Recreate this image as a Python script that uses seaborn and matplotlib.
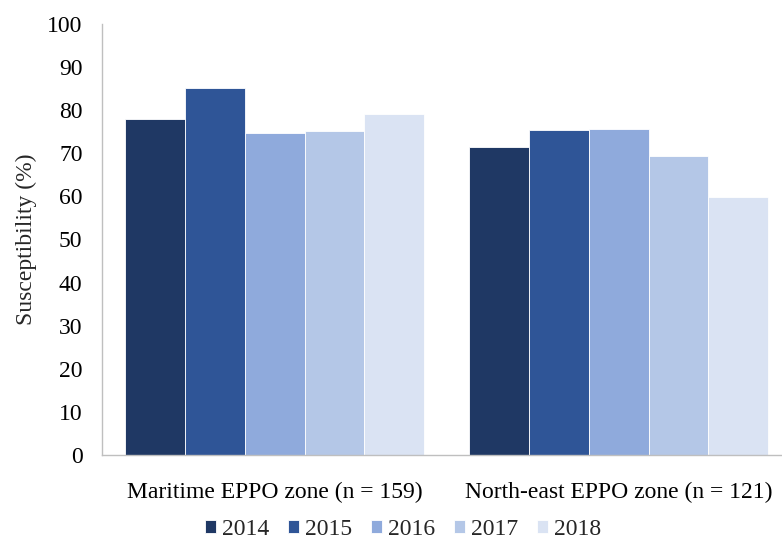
import pandas as pd
import numpy as np
import seaborn as sns
import matplotlib.pyplot as plt

zones = ["Maritime EPPO zone (n = 159)", "North-east EPPO zone (n = 121)"]
years = ["2014", "2015", "2016", "2017", "2018"]
maritime = [78.0, 85.1, 74.8, 75.2, 79.2]
north_east = [71.5, 75.5, 75.7, 69.4, 59.8]
colors = ["#1F3864", "#2F5597", "#8FAADC", "#B4C7E7", "#DAE3F3"]

df = pd.DataFrame({
    "zone": [zones[0]] * 5 + [zones[1]] * 5,
    "year": years * 2,
    "value": maritime + north_east,
})

sns.set_theme(style="white")
plt.rcParams['font.family'] = ['Liberation Serif', 'DejaVu Serif']
fs = 17

fig = plt.figure(figsize=(7.82, 5.42), dpi=100)
ax = fig.add_axes([102 / 782, 1 - 455 / 542, (782 - 102) / 782, 431 / 542])

sns.barplot(data=df, x="zone", y="value", hue="year", palette=colors,
            saturation=1, width=0.87, edgecolor="white", linewidth=0.6, ax=ax)

ax.set_ylim(0, 100)
ax.set_yticks(np.arange(0, 101, 10))
ax.set_xlim(-0.502, 1.475)
ax.set_xlabel("")
ax.set_ylabel("Susceptibility (%)", fontsize=fs, labelpad=7)
ax.tick_params(axis="both", labelsize=fs, length=0, colors="black")
ax.tick_params(axis="y", pad=14)
ax.tick_params(axis="x", pad=19)

for s in ["top", "right"]:
    ax.spines[s].set_visible(False)
for s in ["left", "bottom"]:
    ax.spines[s].set_color("#BFBFBF")
    ax.spines[s].set_linewidth(1.0)

handles, labels = ax.get_legend_handles_labels()
ax.legend_.remove()
fig.legend(handles, labels, loc="lower center", bbox_to_anchor=(0.515, -0.036),
           ncol=5, frameon=False, fontsize=fs, handlelength=0.47,
           handleheight=0.47, handletextpad=0.25, columnspacing=0.8)

fig.savefig("out.png", dpi=100)
